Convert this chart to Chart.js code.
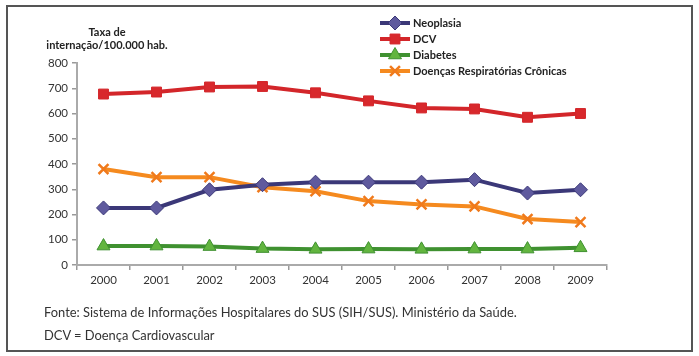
<!DOCTYPE html>
<html>
<head>
<meta charset="utf-8">
<script src="https://cdn.jsdelivr.net/npm/chart.js@4"></script>
<style>
  html, body { margin: 0; padding: 0; background: #fff; }
  #wrap { position: relative; width: 699px; height: 356px; overflow: hidden; }
  #frame { position: absolute; left: 6px; top: 5px; width: 687px; height: 347px; border: 2px solid #555; box-sizing: border-box; }
  canvas { position: absolute; left: 0; top: 0; }
  .note { position: absolute; left: 44px; font-family: Lato, "Open Sans", sans-serif; font-size: 12.9px; color: #333; white-space: nowrap; }
  .ytitle { position: absolute; font-family: Lato, "Open Sans", sans-serif; font-weight: bold; font-size: 11px; color: #222; text-align: center; width: 160px; left: 27px; line-height: 13px; }
</style>
</head>
<body>
<div id="wrap">
  <div id="frame"></div>
  <canvas id="c" width="699" height="356"></canvas>
  <div class="ytitle" style="top:25px;">Taxa de<br>internação/100.000 hab.</div>
  <div class="note" style="top:304px;">Fonte: Sistema de Informações Hospitalares do SUS (SIH/SUS). Ministério da Saúde.</div>
  <div class="note" style="top:327px;">DCV = Doença Cardiovascular</div>
</div>
<script>
const years = ["2000","2001","2002","2003","2004","2005","2006","2007","2008","2009"];
const seriesNames = ["Neoplasia","DCV","Diabetes","Doenças Respiratórias Crônicas"];
const neoplasia = [226, 226, 298, 318, 328, 328, 328, 338, 285, 298];
const dcv = [677, 685, 705, 707, 682, 650, 622, 618, 585, 600];
const diabetes = [75, 75, 73, 65, 62, 63, 62, 63, 63, 68];
const respiratorias = [380, 348, 348, 308, 292, 253, 240, 232, 182, 170];
const yTicks = [0, 100, 200, 300, 400, 500, 600, 700, 800];

const styles = [
  { line: "#3b3878", point: "#5f5a9e", pointStyle: "rectRot", radius: 7, bw: 1 },
  { line: "#d3262a", point: "#d8282c", pointStyle: "rect", radius: 7, bw: 1 },
  { line: "#3f9130", point: "#62b53f", pointStyle: "triangle", radius: 7.5, bw: 1 },
  { line: "#f58a1f", point: "#f07a1c", pointStyle: "crossRot", radius: 7, bw: 2.5 }
];
const values = [neoplasia, dcv, diabetes, respiratorias];

const FONT = "Lato, 'Open Sans', sans-serif";

const datasets = seriesNames.map((n, i) => ({
  label: n,
  data: values[i],
  borderColor: styles[i].line,
  backgroundColor: styles[i].point,
  borderWidth: 4,
  pointStyle: styles[i].pointStyle,
  pointRadius: styles[i].radius,
  pointBackgroundColor: styles[i].point,
  pointBorderColor: styles[i].pointStyle === "crossRot" ? styles[i].point : styles[i].line,
  pointBorderWidth: styles[i].bw,
  tension: 0
}));
datasets[0].order = 0;
datasets[3].order = 1;
datasets[1].order = 2;
datasets[2].order = 3;

const legendPlugin = {
  id: "customLegend",
  afterDraw(chart) {
    const ctx = chart.ctx;
    const x0 = 380, x1 = 410, xt = 413;
    const ys = [23, 39, 55, 71];
    ctx.save();
    chart.data.datasets.forEach((ds, i) => {
      const y = ys[i];
      ctx.strokeStyle = ds.borderColor;
      ctx.lineWidth = 4;
      ctx.beginPath(); ctx.moveTo(x0, y); ctx.lineTo(x1, y); ctx.stroke();
      ctx.fillStyle = ds.pointBackgroundColor;
      ctx.strokeStyle = ds.pointBorderColor;
      ctx.lineWidth = ds.pointBorderWidth;
      ctx.beginPath();
      Chart.helpers.drawPoint(ctx, {
        pointStyle: ds.pointStyle, radius: ds.pointRadius, borderWidth: ds.pointBorderWidth, rotation: 0
      }, (x0 + x1) / 2, y);
      ctx.fillStyle = "#222";
      ctx.font = "bold 11px " + FONT;
      ctx.textAlign = "left";
      ctx.textBaseline = "middle";
      ctx.fillText(ds.label, xt, y + 0.5);
    });
    ctx.restore();
  }
};

new Chart(document.getElementById("c"), {
  type: "line",
  data: { labels: years, datasets },
  options: {
    responsive: false,
    animation: false,
    layout: { padding: { left: 0, right: 92, top: 63, bottom: 71 } },
    plugins: { legend: { display: false }, tooltip: { enabled: false } },
    scales: {
      x: {
        offset: true,
        afterFit(s) { s.height = 20; },
        grid: { offset: true, drawOnChartArea: false, drawTicks: true, tickLength: 5, color: "#999", lineWidth: 1.5 },
        border: { display: true, color: "#aaa", width: 2 },
        ticks: { color: "#333", font: { family: FONT, size: 11.5 }, padding: 3 }
      },
      y: {
        min: 0, max: 800,
        afterFit(s) { s.width = 77; },
        afterBuildTicks(s) { s.ticks = yTicks.map(v => ({ value: v })); },
        grid: { drawOnChartArea: false, drawTicks: true, tickLength: 5, color: "#999", lineWidth: 1.5 },
        border: { display: true, color: "#aaa", width: 2 },
        ticks: { color: "#333", font: { family: FONT, size: 11.5 }, padding: 4 }
      }
    }
  },
  plugins: [legendPlugin]
});
</script>
</body>
</html>
